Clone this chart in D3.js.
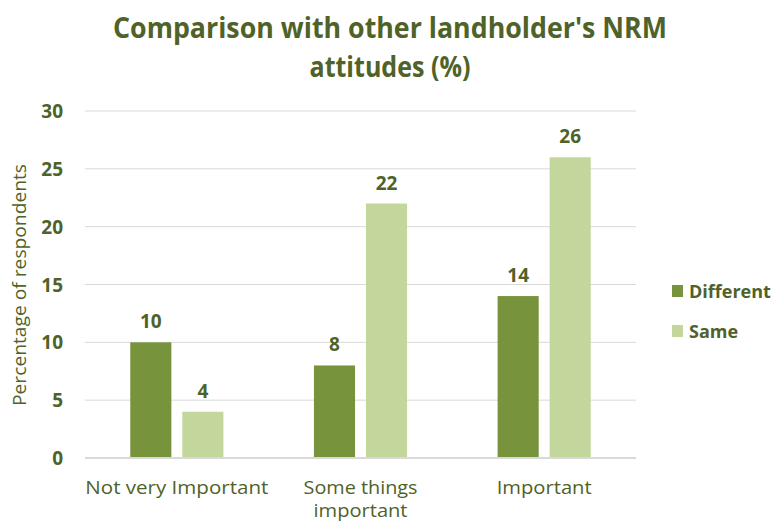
<!DOCTYPE html>
<html><head><meta charset="utf-8">
<script src="https://cdn.jsdelivr.net/npm/d3@7"></script>
<style>body{margin:0;background:#fff;} svg{display:block;}</style>
</head><body>
<svg id="c" width="771" height="522"></svg>
<script>
const categories = [["Not very Important"], ["Some things", "important"], ["Important"]];
const seriesNames = ["Different", "Same"];
const different = [10, 8, 14];
const same = [4, 22, 26];
const yTicks = [0, 5, 10, 15, 20, 25, 30];
const colors = ["#77933c", "#c3d69b"];
const textColor = "#4f6228";
const font = "'Open Sans', sans-serif";

const svg = d3.select("#c");
const m = {l: 85, r: 636, t: 111, b: 458};
const x0 = d3.scaleBand().domain(d3.range(categories.length)).range([m.l, m.r]).paddingInner(0).paddingOuter(0);
const x1 = d3.scaleBand().domain(seriesNames).range([0, x0.bandwidth()]).paddingInner(0.21).paddingOuter(0.87);
const y = d3.scaleLinear().domain([0, 30]).range([m.b, m.t]);

// title
const title = svg.append("g").attr("font-family", font).attr("font-weight", "bold")
  .attr("font-size", 29).attr("fill", textColor).attr("text-anchor", "middle");
title.append("text").attr("x", 390).attr("y", 38).text("Comparison with other landholder's NRM")
  .attr("textLength", 554).attr("lengthAdjust", "spacingAndGlyphs");
title.append("text").attr("x", 390).attr("y", 77).text("attitudes (%)")
  .attr("textLength", 161).attr("lengthAdjust", "spacingAndGlyphs");

// gridlines
svg.append("g").selectAll("line").data(yTicks.filter(d => d > 0)).join("line")
  .attr("x1", m.l).attr("x2", m.r).attr("y1", d => y(d)).attr("y2", d => y(d))
  .attr("stroke", "#d9d9d9").attr("stroke-width", 1);

// y axis labels
const yAxis = d3.axisLeft(y).tickValues(yTicks).tickSize(0).tickPadding(0);
const ga = svg.append("g").attr("transform", `translate(${m.l - 22},0)`).call(yAxis);
ga.select(".domain").remove();
ga.selectAll("text").attr("font-family", font).attr("font-weight", "bold").attr("font-size", 19)
  .attr("fill", textColor).attr("dy", "0.35em");

// y title
svg.append("text").attr("transform", "translate(26,285) rotate(-90)").attr("text-anchor", "middle")
  .attr("font-family", font).attr("font-size", 18).attr("fill", textColor)
  .text("Percentage of respondents").attr("textLength", 242).attr("lengthAdjust", "spacingAndGlyphs");

// bars
const data = categories.map((c, i) => ({i, vals: [different[i], same[i]]}));
const groups = svg.append("g").selectAll("g").data(data).join("g")
  .attr("transform", d => `translate(${x0(d.i)},0)`);
groups.selectAll("rect").data(d => d.vals.map((v, k) => ({k, v}))).join("rect")
  .attr("x", d => x1(seriesNames[d.k])).attr("width", x1.bandwidth())
  .attr("y", d => y(d.v)).attr("height", d => y(0) - y(d.v)).attr("fill", d => colors[d.k]);
groups.selectAll("text").data(d => d.vals.map((v, k) => ({k, v}))).join("text")
  .attr("x", d => x1(seriesNames[d.k]) + x1.bandwidth() / 2).attr("y", d => y(d.v) - 14)
  .attr("text-anchor", "middle").attr("font-family", font).attr("font-weight", "bold")
  .attr("font-size", 19).attr("fill", textColor).text(d => d.v);

// baseline
svg.append("line").attr("x1", m.l).attr("x2", m.r).attr("y1", y(0)).attr("y2", y(0))
  .attr("stroke", "#d9d9d9").attr("stroke-width", 2);

// x labels (each line its own text element)
const lineWidths = {"Not very Important": 183, "Some things": 114, "important": 94, "Important": 95};
const xg = svg.append("g").selectAll("g").data(categories).join("g")
  .attr("transform", (d, i) => `translate(${x0(i) + x0.bandwidth() / 2},0)`);
xg.selectAll("text").data(d => d).join("text")
  .attr("text-anchor", "middle").attr("font-family", font).attr("font-size", 17.5).attr("fill", textColor)
  .attr("x", 0).attr("y", (d, i) => 494 + i * 23)
  .attr("textLength", d => lineWidths[d]).attr("lengthAdjust", "spacingAndGlyphs")
  .text(d => d);

// legend
const lg = svg.append("g").selectAll("g").data(seriesNames).join("g")
  .attr("transform", (d, i) => `translate(672,${285 + i * 40})`);
lg.append("rect").attr("width", 11).attr("height", 12).attr("fill", (d, i) => colors[i]);
lg.append("text").attr("x", 17).attr("y", 13).attr("font-family", font).attr("font-weight", "bold")
  .attr("font-size", 18).attr("fill", textColor).text(d => d);
</script>
</body></html>
